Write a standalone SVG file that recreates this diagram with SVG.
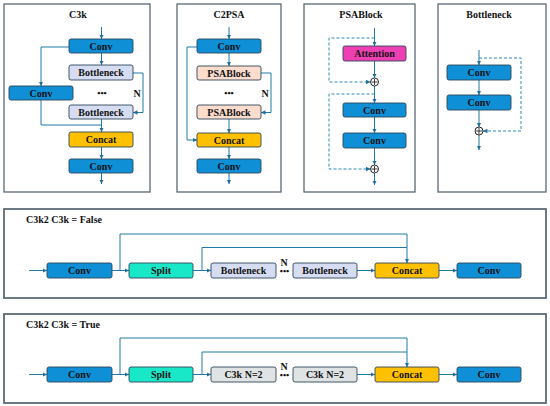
<svg xmlns="http://www.w3.org/2000/svg" width="550" height="406" viewBox="0 0 550 406">
<defs>
<marker id="a" viewBox="0 0 6 6" refX="6" refY="3" markerWidth="4.5" markerHeight="4.5" markerUnits="userSpaceOnUse" orient="auto"><path d="M0,0 L6,3 L0,6z" fill="#1f6f9a"/></marker>
</defs>
<style>
.panel{fill:#fff;stroke:#4d5d6b;stroke-width:1.2}
.panel2{fill:#fff;stroke:#5d6c78;stroke-width:1.8}
.box{stroke:#2c4659;stroke-width:0.9}
.conv{fill:#0e8fd6}
.bn{fill:#d6ddf3}
.cat{fill:#ffc000}
.psa{fill:#fbdccd}
.att{fill:#ee40b3}
.split{fill:#19e8c8}
.c3k{fill:#dfe3e4}
.t{font-family:"Liberation Serif","Times New Roman",serif;font-weight:bold;font-size:10px;fill:#111;text-anchor:middle;dominant-baseline:central}
.title{font-family:"Liberation Serif","Times New Roman",serif;font-weight:bold;font-size:10px;fill:#111}
.dots{font-family:"Liberation Serif","Times New Roman",serif;font-weight:bold;font-size:9px;fill:#111;text-anchor:middle;dominant-baseline:central}
.ln{fill:none;stroke:#1f7aa6;stroke-width:1}
.arr{marker-end:url(#a)}
.dash{fill:none;stroke:#2a8ab8;stroke-width:1;stroke-dasharray:3 2}
.sum{fill:#fff;stroke:#111;stroke-width:0.9}
</style>

<g id="panels">
<rect class="panel" x="4" y="4" width="146" height="188"/>
<rect class="panel" x="177" y="4" width="104" height="188"/>
<rect class="panel" x="304" y="4" width="111" height="188"/>
<rect class="panel" x="438" y="4" width="108" height="188"/>
<rect class="panel2" x="4" y="209" width="542" height="89"/>
<rect class="panel2" x="4" y="314" width="542" height="89"/>
<text class="title" x="78" y="18" text-anchor="middle">C3k</text>
<text class="title" x="229" y="18" text-anchor="middle">C2PSA</text>
<text class="title" x="361" y="18" text-anchor="middle">PSABlock</text>
<text class="title" x="489" y="18" text-anchor="middle">Bottleneck</text>
<text class="title" x="26" y="223">C3k2 C3k = False</text>
<text class="title" x="26" y="328">C3k2 C3k = True</text>
</g>

<g id="connectors">
<!-- C3k -->
<path class="ln arr" d="M101.5,27 V39"/>
<path class="ln arr" d="M101.5,53 V65"/>
<path class="ln arr" d="M69,47 H41 V86"/>
<path class="ln arr" d="M133,73 H143 V112.5 H133"/>
<path class="ln" d="M41,100 V125 H101.5"/>
<path class="ln arr" d="M101.5,119 V132"/>
<path class="ln arr" d="M101.5,147 V159"/>
<path class="ln arr" d="M101.5,173 V184"/>
<!-- C2PSA -->
<path class="ln arr" d="M229,27 V39"/>
<path class="ln arr" d="M229,53 V66"/>
<path class="ln arr" d="M197,47 H187 V140 H197"/>
<path class="ln arr" d="M261,73 H271 V112.5 H261"/>
<path class="ln arr" d="M229,119 V133"/>
<path class="ln arr" d="M229,147 V159"/>
<path class="ln arr" d="M229,173 V184"/>
<!-- PSABlock -->
<path class="ln arr" d="M374.5,28 V46"/>
<path class="dash arr" d="M374.5,38 H329 V82 H370.5"/>
<path class="ln arr" d="M374.5,61 V78"/>
<path class="ln arr" d="M374.5,86 V103"/>
<path class="dash arr" d="M374.5,94 H329 V169 H370.5"/>
<path class="ln arr" d="M374.5,117 V133"/>
<path class="ln arr" d="M374.5,148 V165"/>
<path class="ln arr" d="M374.5,173 V185"/>
<!-- Bottleneck -->
<path class="ln arr" d="M479,50 V65"/>
<path class="dash arr" d="M479,58 H521 V131 H483"/>
<path class="ln arr" d="M479,80 V95"/>
<path class="ln arr" d="M479,110 V127"/>
<path class="ln arr" d="M479,135 V150"/>
<!-- C3k2 False -->
<path class="ln arr" d="M29,270.5 H47"/>
<path class="ln arr" d="M112,270.5 H129"/>
<path class="ln arr" d="M120,270.5 V234 H407 V263"/>
<path class="ln arr" d="M193,270.5 H211"/>
<path class="ln" d="M202,270.5 V247.5 H407"/>
<path class="ln arr" d="M357,270.5 H375"/>
<path class="ln arr" d="M439,270.5 H457"/>
<!-- C3k2 True -->
<path class="ln arr" d="M29,374.5 H47"/>
<path class="ln arr" d="M112,374.5 H129"/>
<path class="ln arr" d="M120,374.5 V338 H407 V367"/>
<path class="ln arr" d="M193,374.5 H211"/>
<path class="ln" d="M202,374.5 V352 H407"/>
<path class="ln arr" d="M357,374.5 H375"/>
<path class="ln arr" d="M439,374.5 H457"/>
</g>

<!-- C3k nodes -->
<g id="c3k-conv1"><rect class="box conv" x="69" y="39" width="64" height="14" rx="2"/><text class="t" x="101" y="46">Conv</text></g>
<g id="c3k-bn1"><rect class="box bn" x="69" y="65" width="64" height="15" rx="2"/><text class="t" x="101" y="72.5">Bottleneck</text></g>
<g id="c3k-convl"><rect class="box conv" x="9" y="86" width="64" height="14" rx="2"/><text class="t" x="41" y="93">Conv</text></g>
<g id="c3k-dots"><text class="dots" x="102" y="93">•••</text><text class="t" x="137" y="93">N</text></g>
<g id="c3k-bn2"><rect class="box bn" x="69" y="105" width="64" height="14" rx="2"/><text class="t" x="101" y="112">Bottleneck</text></g>
<g id="c3k-concat"><rect class="box cat" x="69" y="132" width="64" height="15" rx="2"/><text class="t" x="101" y="139.5">Concat</text></g>
<g id="c3k-conv2"><rect class="box conv" x="69" y="159" width="64" height="14" rx="2"/><text class="t" x="101" y="166">Conv</text></g>

<!-- C2PSA nodes -->
<g id="c2psa-conv1"><rect class="box conv" x="197" y="39" width="64" height="14" rx="2"/><text class="t" x="229" y="46">Conv</text></g>
<g id="c2psa-psa1"><rect class="box psa" x="197" y="66" width="64" height="14" rx="2"/><text class="t" x="229" y="73">PSABlock</text></g>
<g id="c2psa-dots"><text class="dots" x="229" y="93">•••</text><text class="t" x="265" y="93">N</text></g>
<g id="c2psa-psa2"><rect class="box psa" x="197" y="105" width="64" height="14" rx="2"/><text class="t" x="229" y="112">PSABlock</text></g>
<g id="c2psa-concat"><rect class="box cat" x="197" y="133" width="64" height="14" rx="2"/><text class="t" x="229" y="140">Concat</text></g>
<g id="c2psa-conv2"><rect class="box conv" x="197" y="159" width="64" height="14" rx="2"/><text class="t" x="229" y="166">Conv</text></g>

<!-- PSABlock nodes -->
<g id="psab-att"><rect class="box att" x="343" y="46" width="63" height="15" rx="2"/><text class="t" x="374.5" y="53.5">Attention</text></g>
<g id="psab-sum1"><circle class="sum" cx="374.5" cy="82" r="4"/><path d="M371.5,82 H377.5 M374.5,79 V85" stroke="#111" stroke-width="0.8"/></g>
<g id="psab-conv1"><rect class="box conv" x="343" y="103" width="63" height="14" rx="2"/><text class="t" x="374.5" y="110">Conv</text></g>
<g id="psab-conv2"><rect class="box conv" x="343" y="133" width="63" height="15" rx="2"/><text class="t" x="374.5" y="140.5">Conv</text></g>
<g id="psab-sum2"><circle class="sum" cx="374.5" cy="169" r="4"/><path d="M371.5,169 H377.5 M374.5,166 V172" stroke="#111" stroke-width="0.8"/></g>

<!-- Bottleneck nodes -->
<g id="bn-conv1"><rect class="box conv" x="447" y="65" width="64" height="15" rx="2"/><text class="t" x="479" y="72.5">Conv</text></g>
<g id="bn-conv2"><rect class="box conv" x="447" y="95" width="64" height="15" rx="2"/><text class="t" x="479" y="102.5">Conv</text></g>
<g id="bn-sum"><circle class="sum" cx="479" cy="131" r="4"/><path d="M476,131 H482 M479,128 V134" stroke="#111" stroke-width="0.8"/></g>

<!-- C3k2 False nodes -->
<g id="f-conv1"><rect class="box conv" x="47" y="263" width="65" height="15" rx="2"/><text class="t" x="79.5" y="270.5">Conv</text></g>
<g id="f-split"><rect class="box split" x="129" y="263" width="64" height="15" rx="2"/><text class="t" x="161" y="270.5">Split</text></g>
<g id="f-bn1"><rect class="box bn" x="211" y="263" width="65" height="15" rx="2"/><text class="t" x="243.5" y="270.5">Bottleneck</text></g>
<g id="f-dots"><text class="dots" x="284.5" y="271">•••</text><text class="t" x="284" y="262">N</text></g>
<g id="f-bn2"><rect class="box bn" x="293" y="263" width="64" height="15" rx="2"/><text class="t" x="325" y="270.5">Bottleneck</text></g>
<g id="f-concat"><rect class="box cat" x="375" y="263" width="64" height="15" rx="2"/><text class="t" x="407" y="270.5">Concat</text></g>
<g id="f-conv2"><rect class="box conv" x="457" y="263" width="64" height="15" rx="2"/><text class="t" x="489" y="270.5">Conv</text></g>

<!-- C3k2 True nodes -->
<g id="t-conv1"><rect class="box conv" x="47" y="367" width="65" height="15" rx="2"/><text class="t" x="79.5" y="374.5">Conv</text></g>
<g id="t-split"><rect class="box split" x="129" y="367" width="64" height="15" rx="2"/><text class="t" x="161" y="374.5">Split</text></g>
<g id="t-c3k1"><rect class="box c3k" x="211" y="367" width="65" height="15" rx="2"/><text class="t" x="243.5" y="374.5">C3k N=2</text></g>
<g id="t-dots"><text class="dots" x="284.5" y="375">•••</text><text class="t" x="284" y="366">N</text></g>
<g id="t-c3k2"><rect class="box c3k" x="293" y="367" width="64" height="15" rx="2"/><text class="t" x="325" y="374.5">C3k N=2</text></g>
<g id="t-concat"><rect class="box cat" x="375" y="367" width="64" height="15" rx="2"/><text class="t" x="407" y="374.5">Concat</text></g>
<g id="t-conv2"><rect class="box conv" x="457" y="367" width="64" height="15" rx="2"/><text class="t" x="489" y="374.5">Conv</text></g>
</svg>
